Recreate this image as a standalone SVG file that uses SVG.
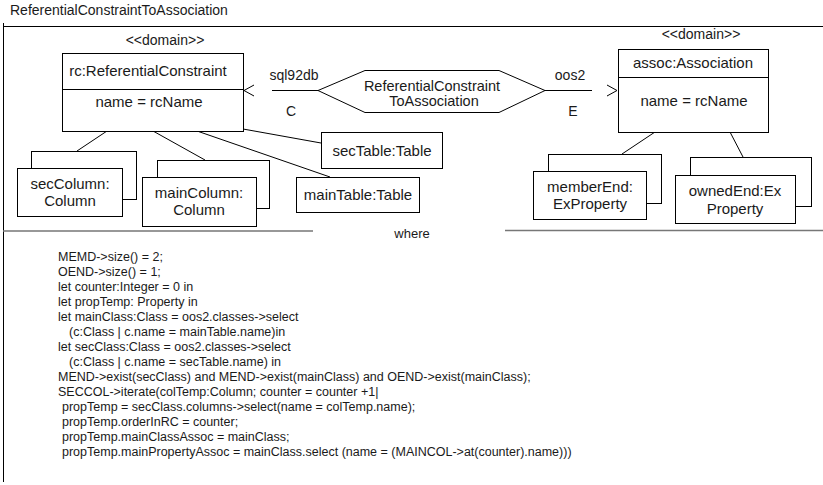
<svg xmlns="http://www.w3.org/2000/svg" width="823" height="485" viewBox="0 0 823 485">
<defs>
<style>
text{font-family:"Liberation Sans",Arial,sans-serif;fill:#1a1a1a}
.t{font-size:14px}
.c{font-size:12.5px}
.n{font-size:15px;text-anchor:middle}
.h{font-size:14.5px;text-anchor:middle}
.s{font-size:14px;text-anchor:middle}
.w{font-size:13px;text-anchor:middle}
.box{fill:#fff;stroke:#000;stroke-width:1}
.ln{fill:none;stroke:#000;stroke-width:1}
.sep{fill:none;stroke:#777;stroke-width:1.5}
</style>
<linearGradient id="fade" x1="0" y1="0" x2="1" y2="0">
<stop offset="0" stop-color="#777"/>
<stop offset="0.85" stop-color="#888"/>
<stop offset="1" stop-color="#ddd"/>
</linearGradient>
<path id="arrowL" d="M254,85 L244,90.5 L254,96" class="ln"/>
<path id="arrowR" d="M607,85 L617,90.5 L607,96" class="ln"/>
</defs>
<rect width="823" height="485" fill="#fff"/>
<text class="t" x="10" y="15">ReferentialConstraintToAssociation</text>
<g id="frame">
<path class="ln" d="M3.5,23 V482 M3.5,26.5 H823"/>
<path d="M3,482.5 H585" stroke="url(#fade)" stroke-width="2" fill="none"/>
</g>
<g id="connectors">
<path class="ln" d="M318,90.5 H272"/>
<use href="#arrowL"/>
<path class="ln" d="M545,90.5 H592"/>
<use href="#arrowR"/>
<path class="ln" d="M107,131 L77,151"/>
<path class="ln" d="M153,131 L205,160"/>
<path class="ln" d="M197,131 L330,177"/>
<path class="ln" d="M243,129 L321,143"/>
<path class="ln" d="M655,132 L622,154"/>
<path class="ln" d="M730,132 L743,157"/>
<text class="s" x="294" y="80">sql92db</text>
<text class="s" x="291" y="116">C</text>
<text class="s" x="570" y="80">oos2</text>
<text class="s" x="573" y="116">E</text>
</g>
<g id="rc">
<text class="s" x="165" y="45">&lt;&lt;domain&gt;&gt;</text>
<rect class="box" x="62.5" y="53.5" width="181" height="78"/>
<path class="ln" d="M62.5,89.5 H243.5"/>
<text class="n" x="148" y="76">rc:ReferentialConstraint</text>
<text class="n" x="149" y="107">name = rcName</text>
</g>
<g id="transform">
<polygon class="box" points="318,90.5 365,70.5 499,70.5 545,90.5 499,112.5 365,112.5"/>
<text class="h" x="432" y="91">ReferentialConstraint</text>
<text class="h" x="434" y="106">ToAssociation</text>
</g>
<g id="assoc">
<text class="s" x="701" y="39">&lt;&lt;domain&gt;&gt;</text>
<rect class="box" x="618.5" y="49.5" width="150" height="83"/>
<path class="ln" d="M618.5,77.5 H768.5"/>
<text class="n" x="693" y="68">assoc:Association</text>
<text class="n" x="694" y="106">name = rcName</text>
</g>
<g id="secTable">
<rect class="box" x="321.5" y="132.5" width="121" height="36"/>
<text class="n" x="382" y="156">secTable:Table</text>
</g>
<g id="mainTable">
<rect class="box" x="296.5" y="177.5" width="123" height="35"/>
<text class="n" x="358" y="200">mainTable:Table</text>
</g>
<g id="secColumn">
<rect class="box" x="31.5" y="151.5" width="105" height="48"/>
<rect class="box" x="17.5" y="168.5" width="105" height="48"/>
<text class="n" x="70" y="189">secColumn:</text>
<text class="n" x="70" y="206">Column</text>
</g>
<g id="mainColumn">
<rect class="box" x="157.5" y="160.5" width="112" height="48"/>
<rect class="box" x="142.5" y="177.5" width="114" height="49"/>
<text class="n" x="199" y="198">mainColumn:</text>
<text class="n" x="199" y="215">Column</text>
</g>
<g id="memberEnd">
<rect class="box" x="548.5" y="154.5" width="113" height="49"/>
<rect class="box" x="533.5" y="171.5" width="113" height="48"/>
<text class="n" x="590" y="192">memberEnd:</text>
<text class="n" x="590" y="209">ExProperty</text>
</g>
<g id="ownedEnd">
<rect class="box" x="690.5" y="157.5" width="121" height="49"/>
<rect class="box" x="675.5" y="175.5" width="120" height="48"/>
<text class="n" x="735" y="196">ownedEnd:Ex</text>
<text class="n" x="735" y="214">Property</text>
</g>
<g id="where">
<path class="sep" d="M3,231 H313 M505,230.5 H823"/>
<text class="w" x="412" y="238">where</text>
</g>
<g id="constraints">
<text class="c" x="58" y="261">MEMD-&gt;size() = 2;</text>
<text class="c" x="58" y="276">OEND-&gt;size() = 1;</text>
<text class="c" x="58" y="291">let counter:Integer = 0 in</text>
<text class="c" x="58" y="306">let propTemp: Property in</text>
<text class="c" x="58" y="321">let mainClass:Class = oos2.classes-&gt;select</text>
<text class="c" x="69" y="336">(c:Class | c.name = mainTable.name)in</text>
<text class="c" x="58" y="351">let secClass:Class = oos2.classes-&gt;select</text>
<text class="c" x="69" y="366">(c:Class | c.name = secTable.name) in</text>
<text class="c" x="58" y="381">MEND-&gt;exist(secClass) and MEND-&gt;exist(mainClass) and OEND-&gt;exist(mainClass);</text>
<text class="c" x="58" y="396">SECCOL-&gt;iterate(colTemp:Column; counter = counter +1|</text>
<text class="c" x="62" y="411">propTemp = secClass.columns-&gt;select(name = colTemp.name);</text>
<text class="c" x="62" y="426">propTemp.orderInRC = counter;</text>
<text class="c" x="62" y="441">propTemp.mainClassAssoc = mainClass;</text>
<text class="c" x="62" y="456">propTemp.mainPropertyAssoc = mainClass.select (name = (MAINCOL-&gt;at(counter).name)))</text>
</g>
</svg>
